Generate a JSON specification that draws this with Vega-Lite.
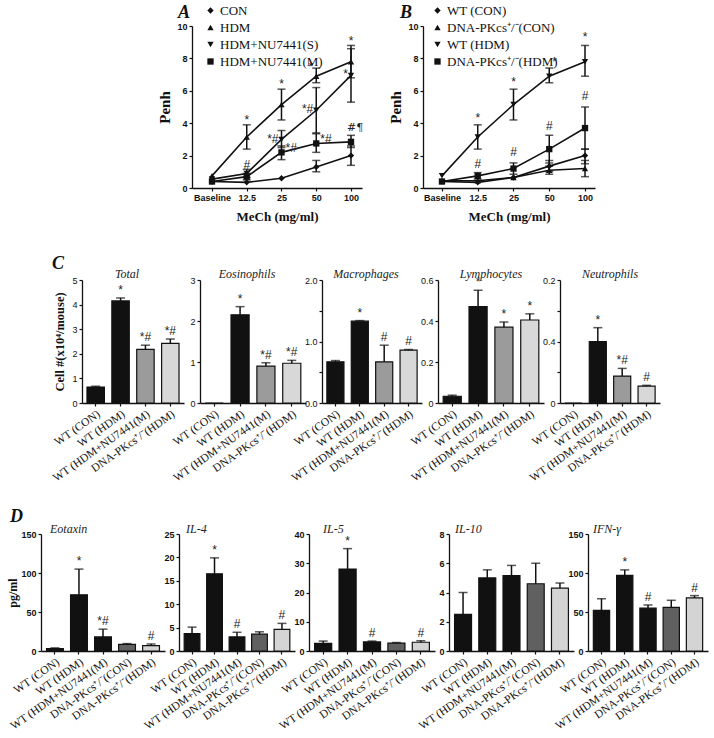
{
"$schema": "https://vega.github.io/schema/vega-lite/v6.json",
"padding": {"left": 0, "top": 4, "right": 5, "bottom": 5},
"background": "white",
"spacing": 32,
"resolve": {"scale": {"color": "independent", "shape": "independent"}},
"config": {
  "view": {"stroke": null},
  "font": "Liberation Serif",
  "axis": {"grid": false, "domainColor": "#111", "domainWidth": 1.3, "tickColor": "#111", "tickWidth": 1.2, "tickSize": 3, "labelColor": "#111", "labelFont": "Liberation Sans", "labelFontSize": 9, "labelPadding": 2, "titleColor": "#111", "titleFont": "Liberation Serif", "titleFontWeight": "bold"},
  "axisX": {"labelFont": "Liberation Serif", "labelFontSize": 11.5, "labelAngle": -35, "labelColor": "#111"},
  "title": {"font": "Liberation Serif", "fontStyle": "italic", "fontWeight": "normal", "fontSize": 12, "color": "#222"},
  "legend": {"padding": 0}
},
"datasets": {
  "penhA": [
    {"grp": "CON", "dose": "Baseline", "penh": 0.4}, {"grp": "CON", "dose": "12.5", "penh": 0.35}, {"grp": "CON", "dose": "25", "penh": 0.6}, {"grp": "CON", "dose": "50", "penh": 1.3}, {"grp": "CON", "dose": "100", "penh": 2.0},
    {"grp": "HDM", "dose": "Baseline", "penh": 0.75}, {"grp": "HDM", "dose": "12.5", "penh": 3.15}, {"grp": "HDM", "dose": "25", "penh": 5.15}, {"grp": "HDM", "dose": "50", "penh": 6.9}, {"grp": "HDM", "dose": "100", "penh": 7.8},
    {"grp": "HDM+NU7441(S)", "dose": "Baseline", "penh": 0.55}, {"grp": "HDM+NU7441(S)", "dose": "12.5", "penh": 0.9}, {"grp": "HDM+NU7441(S)", "dose": "25", "penh": 3.0}, {"grp": "HDM+NU7441(S)", "dose": "50", "penh": 4.8}, {"grp": "HDM+NU7441(S)", "dose": "100", "penh": 6.95},
    {"grp": "HDM+NU7441(M)", "dose": "Baseline", "penh": 0.4}, {"grp": "HDM+NU7441(M)", "dose": "12.5", "penh": 0.7}, {"grp": "HDM+NU7441(M)", "dose": "25", "penh": 2.2}, {"grp": "HDM+NU7441(M)", "dose": "50", "penh": 2.75}, {"grp": "HDM+NU7441(M)", "dose": "100", "penh": 2.85}
  ],
  "errA": [
    {"dose": "50", "lo": 1.0, "hi": 1.7}, {"dose": "100", "lo": 1.4, "hi": 2.6},
    {"dose": "12.5", "lo": 2.4, "hi": 3.9}, {"dose": "25", "lo": 4.2, "hi": 6.1}, {"dose": "50", "lo": 6.5, "hi": 7.4}, {"dose": "100", "lo": 6.8, "hi": 8.8},
    {"dose": "12.5", "lo": 0.65, "hi": 1.15}, {"dose": "25", "lo": 2.5, "hi": 3.55}, {"dose": "50", "lo": 3.4, "hi": 6.2}, {"dose": "100", "lo": 5.3, "hi": 8.6},
    {"dose": "12.5", "lo": 0.5, "hi": 0.9}, {"dose": "25", "lo": 1.75, "hi": 2.6}, {"dose": "50", "lo": 2.2, "hi": 3.35}, {"dose": "100", "lo": 2.5, "hi": 3.25}
  ],
  "annA": [
    {"dose": "12.5", "y": 4.2, "label": "*", "side": "c"}, {"dose": "25", "y": 6.4, "label": "*", "side": "c"}, {"dose": "50", "y": 7.45, "label": "*", "side": "l"}, {"dose": "100", "y": 9.1, "label": "*", "side": "c"},
    {"dose": "100", "y": 7.05, "label": "*", "side": "l"}, {"dose": "25", "y": 3.05, "label": "*#", "side": "l"}, {"dose": "25", "y": 2.5, "label": "*#", "side": "r"},
    {"dose": "50", "y": 4.85, "label": "*#", "side": "l"}, {"dose": "50", "y": 3.0, "label": "*#", "side": "r"}, {"dose": "100", "y": 3.7, "label": "#¶", "side": "p"}, {"dose": "12.5", "y": 1.4, "label": "#", "side": "c"}
  ],
  "penhB": [
    {"grp": "WT (CON)", "dose": "Baseline", "penh": 0.4}, {"grp": "WT (CON)", "dose": "12.5", "penh": 0.35}, {"grp": "WT (CON)", "dose": "25", "penh": 0.65}, {"grp": "WT (CON)", "dose": "50", "penh": 1.35}, {"grp": "WT (CON)", "dose": "100", "penh": 2.0},
    {"grp": "DNA-PKcs⁺/⁻(CON)", "dose": "Baseline", "penh": 0.45}, {"grp": "DNA-PKcs⁺/⁻(CON)", "dose": "12.5", "penh": 0.45}, {"grp": "DNA-PKcs⁺/⁻(CON)", "dose": "25", "penh": 0.65}, {"grp": "DNA-PKcs⁺/⁻(CON)", "dose": "50", "penh": 1.1}, {"grp": "DNA-PKcs⁺/⁻(CON)", "dose": "100", "penh": 1.2},
    {"grp": "WT (HDM)", "dose": "Baseline", "penh": 0.75}, {"grp": "WT (HDM)", "dose": "12.5", "penh": 3.15}, {"grp": "WT (HDM)", "dose": "25", "penh": 5.15}, {"grp": "WT (HDM)", "dose": "50", "penh": 6.9}, {"grp": "WT (HDM)", "dose": "100", "penh": 7.8},
    {"grp": "DNA-PKcs⁺/⁻(HDM)", "dose": "Baseline", "penh": 0.4}, {"grp": "DNA-PKcs⁺/⁻(HDM)", "dose": "12.5", "penh": 0.75}, {"grp": "DNA-PKcs⁺/⁻(HDM)", "dose": "25", "penh": 1.2}, {"grp": "DNA-PKcs⁺/⁻(HDM)", "dose": "50", "penh": 2.4}, {"grp": "DNA-PKcs⁺/⁻(HDM)", "dose": "100", "penh": 3.7}
  ],
  "errB": [
    {"dose": "50", "lo": 1.0, "hi": 1.7}, {"dose": "100", "lo": 1.5, "hi": 2.4},
    {"dose": "50", "lo": 0.85, "hi": 1.35}, {"dose": "100", "lo": 0.7, "hi": 1.7},
    {"dose": "12.5", "lo": 2.4, "hi": 3.9}, {"dose": "25", "lo": 4.2, "hi": 6.1}, {"dose": "50", "lo": 6.5, "hi": 7.4}, {"dose": "100", "lo": 6.9, "hi": 8.8},
    {"dose": "12.5", "lo": 0.55, "hi": 0.95}, {"dose": "25", "lo": 0.85, "hi": 1.55}, {"dose": "50", "lo": 1.55, "hi": 3.25}, {"dose": "100", "lo": 2.4, "hi": 5.0}
  ],
  "annB": [
    {"dose": "12.5", "y": 4.35, "label": "*", "side": "c"}, {"dose": "25", "y": 6.55, "label": "*", "side": "c"}, {"dose": "50", "y": 7.75, "label": "*", "side": "r"}, {"dose": "100", "y": 9.3, "label": "*", "side": "c"},
    {"dose": "12.5", "y": 1.5, "label": "#", "side": "c"}, {"dose": "25", "y": 2.2, "label": "#", "side": "c"}, {"dose": "50", "y": 3.8, "label": "#", "side": "c"}, {"dose": "100", "y": 5.7, "label": "#", "side": "c"}
  ],
  "cells": [
    {"panel": "Total", "g": "WT (CON)", "val": 0.65, "hi": 0.68, "sig": ""},
    {"panel": "Total", "g": "WT (HDM)", "val": 4.15, "hi": 4.27, "sig": "*"},
    {"panel": "Total", "g": "WT (HDM+NU7441(M)", "val": 2.18, "hi": 2.35, "sig": "*#"},
    {"panel": "Total", "g": "DNA-PKcs⁺/⁻(HDM)", "val": 2.42, "hi": 2.6, "sig": "*#"},
    {"panel": "Eosinophils", "g": "WT (CON)", "val": 0, "hi": null, "sig": ""},
    {"panel": "Eosinophils", "g": "WT (HDM)", "val": 2.15, "hi": 2.35, "sig": "*"},
    {"panel": "Eosinophils", "g": "WT (HDM+NU7441(M)", "val": 0.9, "hi": 0.98, "sig": "*#"},
    {"panel": "Eosinophils", "g": "DNA-PKcs⁺/⁻(HDM)", "val": 0.97, "hi": 1.04, "sig": "*#"},
    {"panel": "Macrophages", "g": "WT (CON)", "val": 0.67, "hi": 0.69, "sig": ""},
    {"panel": "Macrophages", "g": "WT (HDM)", "val": 1.33, "hi": 1.34, "sig": "*"},
    {"panel": "Macrophages", "g": "WT (HDM+NU7441(M)", "val": 0.67, "hi": 0.94, "sig": "#"},
    {"panel": "Macrophages", "g": "DNA-PKcs⁺/⁻(HDM)", "val": 0.86, "hi": 0.87, "sig": "#"},
    {"panel": "Lymphocytes", "g": "WT (CON)", "val": 0.033, "hi": 0.038, "sig": ""},
    {"panel": "Lymphocytes", "g": "WT (HDM)", "val": 0.47, "hi": 0.55, "sig": "*"},
    {"panel": "Lymphocytes", "g": "WT (HDM+NU7441(M)", "val": 0.37, "hi": 0.395, "sig": "*"},
    {"panel": "Lymphocytes", "g": "DNA-PKcs⁺/⁻(HDM)", "val": 0.405, "hi": 0.435, "sig": "*"},
    {"panel": "Neutrophils", "g": "WT (CON)", "val": 0, "hi": null, "sig": ""},
    {"panel": "Neutrophils", "g": "WT (HDM)", "val": 0.4, "hi": 0.49, "sig": "*"},
    {"panel": "Neutrophils", "g": "WT (HDM+NU7441(M)", "val": 0.175, "hi": 0.225, "sig": "*#"},
    {"panel": "Neutrophils", "g": "DNA-PKcs⁺/⁻(HDM)", "val": 0.11, "hi": 0.115, "sig": "#"}
  ],
  "cyto": [
    {"panel": "Eotaxin", "g": "WT (CON)", "val": 3, "hi": 4, "sig": ""},
    {"panel": "Eotaxin", "g": "WT (HDM)", "val": 72, "hi": 105, "sig": "*"},
    {"panel": "Eotaxin", "g": "WT (HDM+NU7441(M)", "val": 18, "hi": 28, "sig": "*#"},
    {"panel": "Eotaxin", "g": "DNA-PKcs⁺/⁻(CON)", "val": 8.5, "hi": 9.5, "sig": ""},
    {"panel": "Eotaxin", "g": "DNA-PKcs⁺/⁻(HDM)", "val": 7, "hi": 9, "sig": "#"},
    {"panel": "IL-4", "g": "WT (CON)", "val": 3.7, "hi": 5.1, "sig": ""},
    {"panel": "IL-4", "g": "WT (HDM)", "val": 16.5, "hi": 19.9, "sig": "*"},
    {"panel": "IL-4", "g": "WT (HDM+NU7441(M)", "val": 3.0, "hi": 4.0, "sig": "#"},
    {"panel": "IL-4", "g": "DNA-PKcs⁺/⁻(CON)", "val": 3.6, "hi": 4.1, "sig": ""},
    {"panel": "IL-4", "g": "DNA-PKcs⁺/⁻(HDM)", "val": 4.6, "hi": 5.9, "sig": "#"},
    {"panel": "IL-5", "g": "WT (CON)", "val": 2.6, "hi": 3.4, "sig": ""},
    {"panel": "IL-5", "g": "WT (HDM)", "val": 28, "hi": 35, "sig": "*"},
    {"panel": "IL-5", "g": "WT (HDM+NU7441(M)", "val": 3.1, "hi": 3.4, "sig": "#"},
    {"panel": "IL-5", "g": "DNA-PKcs⁺/⁻(CON)", "val": 2.7, "hi": 2.9, "sig": ""},
    {"panel": "IL-5", "g": "DNA-PKcs⁺/⁻(HDM)", "val": 3.0, "hi": 3.5, "sig": "#"},
    {"panel": "IL-10", "g": "WT (CON)", "val": 2.5, "hi": 4.0, "sig": ""},
    {"panel": "IL-10", "g": "WT (HDM)", "val": 5.0, "hi": 5.55, "sig": ""},
    {"panel": "IL-10", "g": "WT (HDM+NU7441(M)", "val": 5.15, "hi": 5.85, "sig": ""},
    {"panel": "IL-10", "g": "DNA-PKcs⁺/⁻(CON)", "val": 4.6, "hi": 6.0, "sig": ""},
    {"panel": "IL-10", "g": "DNA-PKcs⁺/⁻(HDM)", "val": 4.3, "hi": 4.65, "sig": ""},
    {"panel": "IFN-γ", "g": "WT (CON)", "val": 52, "hi": 67, "sig": ""},
    {"panel": "IFN-γ", "g": "WT (HDM)", "val": 97, "hi": 104, "sig": "*"},
    {"panel": "IFN-γ", "g": "WT (HDM+NU7441(M)", "val": 55, "hi": 59, "sig": "#"},
    {"panel": "IFN-γ", "g": "DNA-PKcs⁺/⁻(CON)", "val": 56, "hi": 65, "sig": ""},
    {"panel": "IFN-γ", "g": "DNA-PKcs⁺/⁻(HDM)", "val": 68, "hi": 71, "sig": "#"}
  ]
},
"vconcat": [
  {
    "bounds": "flush", "spacing": 61,
    "resolve": {"scale": {"color": "independent", "shape": "independent"}},
    "hconcat": [
      {"width": 131, "height": 162, "data": {"values": []}, "mark": "point"},
      {
        "width": 170, "height": 162,
        "data": {"name": "penhA"},
        "encoding": {"x": {"field": "dose", "type": "ordinal", "scale": {"type": "point", "domain": ["Baseline", "12.5", "25", "50", "100"], "padding": 0.446, "align": 0.645}, "axis": {"title": "MeCh (mg/ml)", "labelAngle": 0, "labelFont": "Liberation Sans", "labelFontWeight": "bold", "labelFontSize": 9, "labelColor": "#111", "titleFontSize": 13, "titlePadding": 8}}},
        "layer": [
          {"mark": {"type": "line", "color": "#111", "strokeWidth": 1.6}, "encoding": {"y": {"field": "penh", "type": "quantitative", "scale": {"domain": [0, 10]}, "axis": {"title": "Penh", "values": [0, 2, 4, 6, 8, 10], "titleFontSize": 15, "titlePadding": 4, "labelFontWeight": "bold"}}, "detail": {"field": "grp"}}},
          {"data": {"name": "errA"}, "mark": {"type": "rule", "color": "#111", "strokeWidth": 1.5}, "encoding": {"y": {"field": "lo", "type": "quantitative", "scale": {"domain": [0, 10]}, "axis": {"title": "Penh", "values": [0, 2, 4, 6, 8, 10], "titleFontSize": 15, "titlePadding": 4, "labelFontWeight": "bold"}}, "y2": {"field": "hi"}}},
          {"data": {"name": "errA"}, "mark": {"type": "tick", "color": "#111", "thickness": 1.5, "size": 8}, "encoding": {"y": {"field": "hi", "type": "quantitative", "scale": {"domain": [0, 10]}, "axis": {"title": "Penh", "values": [0, 2, 4, 6, 8, 10], "titleFontSize": 15, "titlePadding": 4, "labelFontWeight": "bold"}}}},
          {"data": {"name": "errA"}, "mark": {"type": "tick", "color": "#111", "thickness": 1.5, "size": 8}, "encoding": {"y": {"field": "lo", "type": "quantitative", "scale": {"domain": [0, 10]}, "axis": {"title": "Penh", "values": [0, 2, 4, 6, 8, 10], "titleFontSize": 15, "titlePadding": 4, "labelFontWeight": "bold"}}}},
          {"mark": {"type": "point", "filled": true, "color": "#111", "size": 40, "opacity": 1}, "encoding": {"y": {"field": "penh", "type": "quantitative", "scale": {"domain": [0, 10]}, "axis": {"title": "Penh", "values": [0, 2, 4, 6, 8, 10], "titleFontSize": 15, "titlePadding": 4, "labelFontWeight": "bold"}}, "shape": {"field": "grp", "type": "nominal", "scale": {"domain": ["CON", "HDM", "HDM+NU7441(S)", "HDM+NU7441(M)"], "range": ["diamond", "triangle-up", "triangle-down", "square"]}, "legend": {"title": "A", "titleOrient": "left", "titleFont": "Liberation Serif", "titleFontSize": 18, "titleFontStyle": "italic", "titleFontWeight": "bold", "titleColor": "#111", "titlePadding": 13, "titleAnchor": "start", "titleBaseline": "top", "orient": "none", "legendX": -14, "legendY": -22, "labelFont": "Liberation Serif", "labelFontSize": 13, "labelColor": "#111", "labelOffset": 3, "symbolSize": 40, "symbolFillColor": "#111", "symbolStrokeColor": "#111", "rowPadding": 3}}}},
          {"data": {"name": "annA"}, "transform": [{"filter": "datum.side === 'c'"}], "mark": {"type": "text", "font": "Liberation Sans", "fontSize": 12, "color": "#222", "baseline": "middle", "align": "center"}, "encoding": {"y": {"field": "y", "type": "quantitative", "scale": {"domain": [0, 10]}, "axis": {"title": "Penh", "values": [0, 2, 4, 6, 8, 10], "titleFontSize": 15, "titlePadding": 4, "labelFontWeight": "bold"}}, "text": {"field": "label"}}},
          {"data": {"name": "annA"}, "transform": [{"filter": "datum.side === 'p'"}], "mark": {"type": "text", "font": "DejaVu Serif", "fontSize": 11, "color": "#222", "baseline": "middle", "align": "left", "dx": -4}, "encoding": {"y": {"field": "y", "type": "quantitative", "scale": {"domain": [0, 10]}, "axis": {"title": "Penh", "values": [0, 2, 4, 6, 8, 10], "titleFontSize": 15, "titlePadding": 4, "labelFontWeight": "bold"}}, "text": {"field": "label"}}},
          {"data": {"name": "annA"}, "transform": [{"filter": "datum.side === 'l'"}], "mark": {"type": "text", "font": "Liberation Sans", "fontSize": 12, "color": "#222", "baseline": "middle", "align": "right", "dx": -3}, "encoding": {"y": {"field": "y", "type": "quantitative", "scale": {"domain": [0, 10]}, "axis": {"title": "Penh", "values": [0, 2, 4, 6, 8, 10], "titleFontSize": 15, "titlePadding": 4, "labelFontWeight": "bold"}}, "text": {"field": "label"}}},
          {"data": {"name": "annA"}, "transform": [{"filter": "datum.side === 'r'"}], "mark": {"type": "text", "font": "Liberation Sans", "fontSize": 12, "color": "#222", "baseline": "middle", "align": "left", "dx": 4}, "encoding": {"y": {"field": "y", "type": "quantitative", "scale": {"domain": [0, 10]}, "axis": {"title": "Penh", "values": [0, 2, 4, 6, 8, 10], "titleFontSize": 15, "titlePadding": 4, "labelFontWeight": "bold"}}, "text": {"field": "label"}}}
        ]
      },
      {
        "width": 172, "height": 162,
        "data": {"name": "penhB"},
        "encoding": {"x": {"field": "dose", "type": "ordinal", "scale": {"type": "point", "domain": ["Baseline", "12.5", "25", "50", "100"], "padding": 0.405, "align": 0.655}, "axis": {"title": "MeCh (mg/ml)", "labelAngle": 0, "labelFont": "Liberation Sans", "labelFontWeight": "bold", "labelFontSize": 9, "labelColor": "#111", "titleFontSize": 13, "titlePadding": 8}}},
        "layer": [
          {"mark": {"type": "line", "color": "#111", "strokeWidth": 1.6}, "encoding": {"y": {"field": "penh", "type": "quantitative", "scale": {"domain": [0, 10]}, "axis": {"title": "Penh", "values": [0, 2, 4, 6, 8, 10], "titleFontSize": 15, "titlePadding": 4, "labelFontWeight": "bold"}}, "detail": {"field": "grp"}}},
          {"data": {"name": "errB"}, "mark": {"type": "rule", "color": "#111", "strokeWidth": 1.5}, "encoding": {"y": {"field": "lo", "type": "quantitative", "scale": {"domain": [0, 10]}, "axis": {"title": "Penh", "values": [0, 2, 4, 6, 8, 10], "titleFontSize": 15, "titlePadding": 4, "labelFontWeight": "bold"}}, "y2": {"field": "hi"}}},
          {"data": {"name": "errB"}, "mark": {"type": "tick", "color": "#111", "thickness": 1.5, "size": 8}, "encoding": {"y": {"field": "hi", "type": "quantitative", "scale": {"domain": [0, 10]}, "axis": {"title": "Penh", "values": [0, 2, 4, 6, 8, 10], "titleFontSize": 15, "titlePadding": 4, "labelFontWeight": "bold"}}}},
          {"data": {"name": "errB"}, "mark": {"type": "tick", "color": "#111", "thickness": 1.5, "size": 8}, "encoding": {"y": {"field": "lo", "type": "quantitative", "scale": {"domain": [0, 10]}, "axis": {"title": "Penh", "values": [0, 2, 4, 6, 8, 10], "titleFontSize": 15, "titlePadding": 4, "labelFontWeight": "bold"}}}},
          {"mark": {"type": "point", "filled": true, "color": "#111", "size": 40, "opacity": 1}, "encoding": {"y": {"field": "penh", "type": "quantitative", "scale": {"domain": [0, 10]}, "axis": {"title": "Penh", "values": [0, 2, 4, 6, 8, 10], "titleFontSize": 15, "titlePadding": 4, "labelFontWeight": "bold"}}, "shape": {"field": "grp", "type": "nominal", "scale": {"domain": ["WT (CON)", "DNA-PKcs⁺/⁻(CON)", "WT (HDM)", "DNA-PKcs⁺/⁻(HDM)"], "range": ["diamond", "triangle-up", "triangle-down", "square"]}, "legend": {"title": "B", "titleOrient": "left", "titleFont": "Liberation Serif", "titleFontSize": 18, "titleFontStyle": "italic", "titleFontWeight": "bold", "titleColor": "#111", "titlePadding": 18, "titleAnchor": "start", "titleBaseline": "top", "orient": "none", "legendX": -23, "legendY": -22, "labelFont": "Liberation Serif", "labelFontSize": 13, "labelColor": "#111", "labelOffset": 3, "symbolSize": 40, "symbolFillColor": "#111", "symbolStrokeColor": "#111", "rowPadding": 3}}}},
          {"data": {"name": "annB"}, "transform": [{"filter": "datum.side === 'c'"}], "mark": {"type": "text", "font": "Liberation Sans", "fontSize": 12, "color": "#222", "baseline": "middle", "align": "center"}, "encoding": {"y": {"field": "y", "type": "quantitative", "scale": {"domain": [0, 10]}, "axis": {"title": "Penh", "values": [0, 2, 4, 6, 8, 10], "titleFontSize": 15, "titlePadding": 4, "labelFontWeight": "bold"}}, "text": {"field": "label"}}},
          {"data": {"name": "annB"}, "transform": [{"filter": "datum.side === 'r'"}], "mark": {"type": "text", "font": "Liberation Sans", "fontSize": 12, "color": "#222", "baseline": "middle", "align": "left", "dx": 3}, "encoding": {"y": {"field": "y", "type": "quantitative", "scale": {"domain": [0, 10]}, "axis": {"title": "Penh", "values": [0, 2, 4, 6, 8, 10], "titleFontSize": 15, "titlePadding": 4, "labelFontWeight": "bold"}}, "text": {"field": "label"}}}
        ]
      }
    ]
  },
  {
    "spacing": 24,
    "resolve": {"scale": {"color": "independent", "shape": "independent"}},
    "vconcat": [
      {
        "bounds": "flush", "spacing": 16,
        "resolve": {"scale": {"color": "independent"}},
        "hconcat": [
          {"width": 66, "height": 123, "data": {"values": []}, "mark": "point", "title": {"text": "C", "anchor": "start", "dx": 52, "offset": 7, "font": "Liberation Serif", "fontSize": 18, "fontStyle": "italic", "fontWeight": "bold", "color": "#111"}},
          {
            "width": 102, "height": 123, "title": {"text": "Total", "offset": -5, "dx": -6},
            "data": {"name": "cells"}, "transform": [{"filter": "datum.panel === 'Total'"}],
            "encoding": {"x": {"field": "g", "type": "nominal", "sort": null, "scale": {"domain": ["WT (CON)", "WT (HDM)", "WT (HDM+NU7441(M)", "DNA-PKcs⁺/⁻(HDM)"], "paddingInner": 0.3, "paddingOuter": 0.2}, "axis": {"title": null}}},
            "layer": [
              {"mark": {"type": "bar", "stroke": "#111", "strokeWidth": 1.2}, "encoding": {"y": {"field": "val", "type": "quantitative", "scale": {"domain": [0, 5]}, "axis": {"values": [0, 1, 2, 3, 4, 5], "title": "Cell #(x10⁴/mouse)", "titleFontSize": 12.5, "titlePadding": 5}}, "color": {"field": "g", "type": "nominal", "scale": {"domain": ["WT (CON)", "WT (HDM)", "WT (HDM+NU7441(M)", "DNA-PKcs⁺/⁻(HDM)"], "range": ["#111", "#111", "#9b9b9b", "#d8d8d8"]}, "legend": null}}},
              {"transform": [{"filter": "datum.hi != null"}], "mark": {"type": "rule", "color": "#111", "strokeWidth": 1.5}, "encoding": {"y": {"field": "val", "type": "quantitative", "scale": {"domain": [0, 5]}, "axis": {"values": [0, 1, 2, 3, 4, 5], "title": "Cell #(x10⁴/mouse)", "titleFontSize": 12.5, "titlePadding": 5}}, "y2": {"field": "hi"}}},
              {"transform": [{"filter": "datum.hi != null"}], "mark": {"type": "tick", "color": "#111", "thickness": 1.5, "size": 9}, "encoding": {"y": {"field": "hi", "type": "quantitative", "scale": {"domain": [0, 5]}, "axis": {"values": [0, 1, 2, 3, 4, 5], "title": "Cell #(x10⁴/mouse)", "titleFontSize": 12.5, "titlePadding": 5}}}},
              {"transform": [{"filter": "datum.sig !== ''"}], "mark": {"type": "text", "baseline": "bottom", "dy": -1, "font": "Liberation Sans", "fontSize": 12, "color": "#222"}, "encoding": {"y": {"field": "hi", "type": "quantitative", "scale": {"domain": [0, 5]}, "axis": {"values": [0, 1, 2, 3, 4, 5], "title": "Cell #(x10⁴/mouse)", "titleFontSize": 12.5, "titlePadding": 5}}, "text": {"field": "sig"}}}
            ]
          },
          {
            "width": 106, "height": 123, "title": {"text": "Eosinophils", "offset": -5, "dx": -6},
            "data": {"name": "cells"}, "transform": [{"filter": "datum.panel === 'Eosinophils'"}],
            "encoding": {"x": {"field": "g", "type": "nominal", "sort": null, "scale": {"domain": ["WT (CON)", "WT (HDM)", "WT (HDM+NU7441(M)", "DNA-PKcs⁺/⁻(HDM)"], "paddingInner": 0.3, "paddingOuter": 0.2}, "axis": {"title": null}}},
            "layer": [
              {"mark": {"type": "bar", "stroke": "#111", "strokeWidth": 1.2}, "encoding": {"y": {"field": "val", "type": "quantitative", "scale": {"domain": [0, 3]}, "axis": {"values": [0, 1, 2, 3], "title": null}}, "color": {"field": "g", "type": "nominal", "scale": {"domain": ["WT (CON)", "WT (HDM)", "WT (HDM+NU7441(M)", "DNA-PKcs⁺/⁻(HDM)"], "range": ["#111", "#111", "#9b9b9b", "#d8d8d8"]}, "legend": null}}},
              {"transform": [{"filter": "datum.hi != null"}], "mark": {"type": "rule", "color": "#111", "strokeWidth": 1.5}, "encoding": {"y": {"field": "val", "type": "quantitative", "scale": {"domain": [0, 3]}, "axis": {"values": [0, 1, 2, 3], "title": null}}, "y2": {"field": "hi"}}},
              {"transform": [{"filter": "datum.hi != null"}], "mark": {"type": "tick", "color": "#111", "thickness": 1.5, "size": 9}, "encoding": {"y": {"field": "hi", "type": "quantitative", "scale": {"domain": [0, 3]}, "axis": {"values": [0, 1, 2, 3], "title": null}}}},
              {"transform": [{"filter": "datum.sig !== ''"}], "mark": {"type": "text", "baseline": "bottom", "dy": -1, "font": "Liberation Sans", "fontSize": 12, "color": "#222"}, "encoding": {"y": {"field": "hi", "type": "quantitative", "scale": {"domain": [0, 3]}, "axis": {"values": [0, 1, 2, 3], "title": null}}, "text": {"field": "sig"}}}
            ]
          },
          {
            "width": 100, "height": 123, "title": {"text": "Macrophages", "offset": -5, "dx": -6},
            "data": {"name": "cells"}, "transform": [{"filter": "datum.panel === 'Macrophages'"}],
            "encoding": {"x": {"field": "g", "type": "nominal", "sort": null, "scale": {"domain": ["WT (CON)", "WT (HDM)", "WT (HDM+NU7441(M)", "DNA-PKcs⁺/⁻(HDM)"], "paddingInner": 0.3, "paddingOuter": 0.2}, "axis": {"title": null}}},
            "layer": [
              {"mark": {"type": "bar", "stroke": "#111", "strokeWidth": 1.2}, "encoding": {"y": {"field": "val", "type": "quantitative", "scale": {"domain": [0, 2]}, "axis": {"values": [0, 0.5, 1, 1.5, 2], "labelExpr": "datum.value % 1 == 0 ? datum.label : ''", "title": null}}, "color": {"field": "g", "type": "nominal", "scale": {"domain": ["WT (CON)", "WT (HDM)", "WT (HDM+NU7441(M)", "DNA-PKcs⁺/⁻(HDM)"], "range": ["#111", "#111", "#9b9b9b", "#d8d8d8"]}, "legend": null}}},
              {"transform": [{"filter": "datum.hi != null"}], "mark": {"type": "rule", "color": "#111", "strokeWidth": 1.5}, "encoding": {"y": {"field": "val", "type": "quantitative", "scale": {"domain": [0, 2]}, "axis": {"values": [0, 0.5, 1, 1.5, 2], "labelExpr": "datum.value % 1 == 0 ? datum.label : ''", "title": null}}, "y2": {"field": "hi"}}},
              {"transform": [{"filter": "datum.hi != null"}], "mark": {"type": "tick", "color": "#111", "thickness": 1.5, "size": 9}, "encoding": {"y": {"field": "hi", "type": "quantitative", "scale": {"domain": [0, 2]}, "axis": {"values": [0, 0.5, 1, 1.5, 2], "labelExpr": "datum.value % 1 == 0 ? datum.label : ''", "title": null}}}},
              {"transform": [{"filter": "datum.sig !== ''"}], "mark": {"type": "text", "baseline": "bottom", "dy": -1, "font": "Liberation Sans", "fontSize": 12, "color": "#222"}, "encoding": {"y": {"field": "hi", "type": "quantitative", "scale": {"domain": [0, 2]}, "axis": {"values": [0, 0.5, 1, 1.5, 2], "labelExpr": "datum.value % 1 == 0 ? datum.label : ''", "title": null}}, "text": {"field": "sig"}}}
            ]
          },
          {
            "width": 106, "height": 123, "title": {"text": "Lymphocytes", "offset": -5},
            "data": {"name": "cells"}, "transform": [{"filter": "datum.panel === 'Lymphocytes'"}],
            "encoding": {"x": {"field": "g", "type": "nominal", "sort": null, "scale": {"domain": ["WT (CON)", "WT (HDM)", "WT (HDM+NU7441(M)", "DNA-PKcs⁺/⁻(HDM)"], "paddingInner": 0.3, "paddingOuter": 0.2}, "axis": {"title": null}}},
            "layer": [
              {"mark": {"type": "bar", "stroke": "#111", "strokeWidth": 1.2}, "encoding": {"y": {"field": "val", "type": "quantitative", "scale": {"domain": [0, 0.6]}, "axis": {"values": [0, 0.2, 0.4, 0.6], "format": ".1~f", "title": null}}, "color": {"field": "g", "type": "nominal", "scale": {"domain": ["WT (CON)", "WT (HDM)", "WT (HDM+NU7441(M)", "DNA-PKcs⁺/⁻(HDM)"], "range": ["#111", "#111", "#9b9b9b", "#d8d8d8"]}, "legend": null}}},
              {"transform": [{"filter": "datum.hi != null"}], "mark": {"type": "rule", "color": "#111", "strokeWidth": 1.5}, "encoding": {"y": {"field": "val", "type": "quantitative", "scale": {"domain": [0, 0.6]}, "axis": {"values": [0, 0.2, 0.4, 0.6], "format": ".1~f", "title": null}}, "y2": {"field": "hi"}}},
              {"transform": [{"filter": "datum.hi != null"}], "mark": {"type": "tick", "color": "#111", "thickness": 1.5, "size": 9}, "encoding": {"y": {"field": "hi", "type": "quantitative", "scale": {"domain": [0, 0.6]}, "axis": {"values": [0, 0.2, 0.4, 0.6], "format": ".1~f", "title": null}}}},
              {"transform": [{"filter": "datum.sig !== ''"}], "mark": {"type": "text", "baseline": "bottom", "dy": -1, "font": "Liberation Sans", "fontSize": 12, "color": "#222"}, "encoding": {"y": {"field": "hi", "type": "quantitative", "scale": {"domain": [0, 0.6]}, "axis": {"values": [0, 0.2, 0.4, 0.6], "format": ".1~f", "title": null}}, "text": {"field": "sig"}}}
            ]
          },
          {
            "width": 100, "height": 123, "title": {"text": "Neutrophils", "offset": -5},
            "data": {"name": "cells"}, "transform": [{"filter": "datum.panel === 'Neutrophils'"}],
            "encoding": {"x": {"field": "g", "type": "nominal", "sort": null, "scale": {"domain": ["WT (CON)", "WT (HDM)", "WT (HDM+NU7441(M)", "DNA-PKcs⁺/⁻(HDM)"], "paddingInner": 0.3, "paddingOuter": 0.2}, "axis": {"title": null}}},
            "layer": [
              {"mark": {"type": "bar", "stroke": "#111", "strokeWidth": 1.2}, "encoding": {"y": {"field": "val", "type": "quantitative", "scale": {"domain": [0, 0.8]}, "axis": {"values": [0, 0.2, 0.4, 0.6, 0.8], "labelExpr": "datum.value == 0 ? '0' : datum.value == 0.4 ? '0.4' : datum.value == 0.8 ? '0.2' : ''", "title": null}}, "color": {"field": "g", "type": "nominal", "scale": {"domain": ["WT (CON)", "WT (HDM)", "WT (HDM+NU7441(M)", "DNA-PKcs⁺/⁻(HDM)"], "range": ["#111", "#111", "#9b9b9b", "#d8d8d8"]}, "legend": null}}},
              {"transform": [{"filter": "datum.hi != null"}], "mark": {"type": "rule", "color": "#111", "strokeWidth": 1.5}, "encoding": {"y": {"field": "val", "type": "quantitative", "scale": {"domain": [0, 0.8]}, "axis": {"values": [0, 0.2, 0.4, 0.6, 0.8], "labelExpr": "datum.value == 0 ? '0' : datum.value == 0.4 ? '0.4' : datum.value == 0.8 ? '0.2' : ''", "title": null}}, "y2": {"field": "hi"}}},
              {"transform": [{"filter": "datum.hi != null"}], "mark": {"type": "tick", "color": "#111", "thickness": 1.5, "size": 9}, "encoding": {"y": {"field": "hi", "type": "quantitative", "scale": {"domain": [0, 0.8]}, "axis": {"values": [0, 0.2, 0.4, 0.6, 0.8], "labelExpr": "datum.value == 0 ? '0' : datum.value == 0.4 ? '0.4' : datum.value == 0.8 ? '0.2' : ''", "title": null}}}},
              {"transform": [{"filter": "datum.sig !== ''"}], "mark": {"type": "text", "baseline": "bottom", "dy": -1, "font": "Liberation Sans", "fontSize": 12, "color": "#222"}, "encoding": {"y": {"field": "hi", "type": "quantitative", "scale": {"domain": [0, 0.8]}, "axis": {"values": [0, 0.2, 0.4, 0.6, 0.8], "labelExpr": "datum.value == 0 ? '0' : datum.value == 0.4 ? '0.4' : datum.value == 0.8 ? '0.2' : ''", "title": null}}, "text": {"field": "sig"}}}
            ]
          }
        ]
      },
      {
        "bounds": "flush", "spacing": 14,
        "resolve": {"scale": {"color": "independent"}},
        "hconcat": [
          {"width": 27, "height": 117, "data": {"values": []}, "mark": "point", "title": {"text": "D", "anchor": "start", "dx": 10, "offset": 8, "font": "Liberation Serif", "fontSize": 18, "fontStyle": "italic", "fontWeight": "bold", "color": "#111"}},
          {
            "width": 124, "height": 117, "title": {"text": "Eotaxin", "anchor": "start", "frame": "group", "dx": 9, "offset": -6},
            "data": {"name": "cyto"}, "transform": [{"filter": "datum.panel === 'Eotaxin'"}],
            "encoding": {"x": {"field": "g", "type": "nominal", "sort": null, "scale": {"domain": ["WT (CON)", "WT (HDM)", "WT (HDM+NU7441(M)", "DNA-PKcs⁺/⁻(CON)", "DNA-PKcs⁺/⁻(HDM)"], "paddingInner": 0.3, "paddingOuter": 0.23}, "axis": {"title": null}}},
            "layer": [
              {"mark": {"type": "bar", "stroke": "#111", "strokeWidth": 1.2}, "encoding": {"y": {"field": "val", "type": "quantitative", "scale": {"domain": [0, 150]}, "axis": {"values": [0, 50, 100, 150], "title": "pg/ml", "titleFontSize": 12, "titlePadding": 1, "labelFontWeight": "bold"}}, "color": {"field": "g", "type": "nominal", "scale": {"domain": ["WT (CON)", "WT (HDM)", "WT (HDM+NU7441(M)", "DNA-PKcs⁺/⁻(CON)", "DNA-PKcs⁺/⁻(HDM)"], "range": ["#111", "#111", "#111", "#606060", "#d4d4d4"]}, "legend": null}}},
              {"mark": {"type": "rule", "color": "#111", "strokeWidth": 1.5}, "encoding": {"y": {"field": "val", "type": "quantitative", "scale": {"domain": [0, 150]}, "axis": {"values": [0, 50, 100, 150], "title": "pg/ml", "titleFontSize": 12, "titlePadding": 1, "labelFontWeight": "bold"}}, "y2": {"field": "hi"}}},
              {"mark": {"type": "tick", "color": "#111", "thickness": 1.5, "size": 9}, "encoding": {"y": {"field": "hi", "type": "quantitative", "scale": {"domain": [0, 150]}, "axis": {"values": [0, 50, 100, 150], "title": "pg/ml", "titleFontSize": 12, "titlePadding": 1, "labelFontWeight": "bold"}}}},
              {"transform": [{"filter": "datum.sig !== ''"}], "mark": {"type": "text", "baseline": "bottom", "dy": -1, "font": "Liberation Sans", "fontSize": 12, "color": "#222"}, "encoding": {"y": {"field": "hi", "type": "quantitative", "scale": {"domain": [0, 150]}, "axis": {"values": [0, 50, 100, 150], "title": "pg/ml", "titleFontSize": 12, "titlePadding": 1, "labelFontWeight": "bold"}}, "text": {"field": "sig"}}}
            ]
          },
          {
            "width": 116, "height": 117, "title": {"text": "IL-4", "anchor": "start", "frame": "group", "dx": 7, "offset": -6},
            "data": {"name": "cyto"}, "transform": [{"filter": "datum.panel === 'IL-4'"}],
            "encoding": {"x": {"field": "g", "type": "nominal", "sort": null, "scale": {"domain": ["WT (CON)", "WT (HDM)", "WT (HDM+NU7441(M)", "DNA-PKcs⁺/⁻(CON)", "DNA-PKcs⁺/⁻(HDM)"], "paddingInner": 0.3, "paddingOuter": 0.23}, "axis": {"title": null}}},
            "layer": [
              {"mark": {"type": "bar", "stroke": "#111", "strokeWidth": 1.2}, "encoding": {"y": {"field": "val", "type": "quantitative", "scale": {"domain": [0, 25]}, "axis": {"values": [0, 5, 10, 15, 20, 25], "title": null, "labelFontWeight": "bold"}}, "color": {"field": "g", "type": "nominal", "scale": {"domain": ["WT (CON)", "WT (HDM)", "WT (HDM+NU7441(M)", "DNA-PKcs⁺/⁻(CON)", "DNA-PKcs⁺/⁻(HDM)"], "range": ["#111", "#111", "#111", "#606060", "#d4d4d4"]}, "legend": null}}},
              {"mark": {"type": "rule", "color": "#111", "strokeWidth": 1.5}, "encoding": {"y": {"field": "val", "type": "quantitative", "scale": {"domain": [0, 25]}, "axis": {"values": [0, 5, 10, 15, 20, 25], "title": null, "labelFontWeight": "bold"}}, "y2": {"field": "hi"}}},
              {"mark": {"type": "tick", "color": "#111", "thickness": 1.5, "size": 9}, "encoding": {"y": {"field": "hi", "type": "quantitative", "scale": {"domain": [0, 25]}, "axis": {"values": [0, 5, 10, 15, 20, 25], "title": null, "labelFontWeight": "bold"}}}},
              {"transform": [{"filter": "datum.sig !== ''"}], "mark": {"type": "text", "baseline": "bottom", "dy": -1, "font": "Liberation Sans", "fontSize": 12, "color": "#222"}, "encoding": {"y": {"field": "hi", "type": "quantitative", "scale": {"domain": [0, 25]}, "axis": {"values": [0, 5, 10, 15, 20, 25], "title": null, "labelFontWeight": "bold"}}, "text": {"field": "sig"}}}
            ]
          },
          {
            "width": 126, "height": 117, "title": {"text": "IL-5", "anchor": "start", "frame": "group", "dx": 14, "offset": -6},
            "data": {"name": "cyto"}, "transform": [{"filter": "datum.panel === 'IL-5'"}],
            "encoding": {"x": {"field": "g", "type": "nominal", "sort": null, "scale": {"domain": ["WT (CON)", "WT (HDM)", "WT (HDM+NU7441(M)", "DNA-PKcs⁺/⁻(CON)", "DNA-PKcs⁺/⁻(HDM)"], "paddingInner": 0.3, "paddingOuter": 0.23}, "axis": {"title": null}}},
            "layer": [
              {"mark": {"type": "bar", "stroke": "#111", "strokeWidth": 1.2}, "encoding": {"y": {"field": "val", "type": "quantitative", "scale": {"domain": [0, 40]}, "axis": {"values": [0, 10, 20, 30, 40], "title": null, "labelFontWeight": "bold"}}, "color": {"field": "g", "type": "nominal", "scale": {"domain": ["WT (CON)", "WT (HDM)", "WT (HDM+NU7441(M)", "DNA-PKcs⁺/⁻(CON)", "DNA-PKcs⁺/⁻(HDM)"], "range": ["#111", "#111", "#111", "#606060", "#d4d4d4"]}, "legend": null}}},
              {"mark": {"type": "rule", "color": "#111", "strokeWidth": 1.5}, "encoding": {"y": {"field": "val", "type": "quantitative", "scale": {"domain": [0, 40]}, "axis": {"values": [0, 10, 20, 30, 40], "title": null, "labelFontWeight": "bold"}}, "y2": {"field": "hi"}}},
              {"mark": {"type": "tick", "color": "#111", "thickness": 1.5, "size": 9}, "encoding": {"y": {"field": "hi", "type": "quantitative", "scale": {"domain": [0, 40]}, "axis": {"values": [0, 10, 20, 30, 40], "title": null, "labelFontWeight": "bold"}}}},
              {"transform": [{"filter": "datum.sig !== ''"}], "mark": {"type": "text", "baseline": "bottom", "dy": -1, "font": "Liberation Sans", "fontSize": 12, "color": "#222"}, "encoding": {"y": {"field": "hi", "type": "quantitative", "scale": {"domain": [0, 40]}, "axis": {"values": [0, 10, 20, 30, 40], "title": null, "labelFontWeight": "bold"}}, "text": {"field": "sig"}}}
            ]
          },
          {
            "width": 125, "height": 117, "title": {"text": "IL-10", "anchor": "start", "frame": "group", "dx": 6, "offset": -6},
            "data": {"name": "cyto"}, "transform": [{"filter": "datum.panel === 'IL-10'"}],
            "encoding": {"x": {"field": "g", "type": "nominal", "sort": null, "scale": {"domain": ["WT (CON)", "WT (HDM)", "WT (HDM+NU7441(M)", "DNA-PKcs⁺/⁻(CON)", "DNA-PKcs⁺/⁻(HDM)"], "paddingInner": 0.3, "paddingOuter": 0.23}, "axis": {"title": null}}},
            "layer": [
              {"mark": {"type": "bar", "stroke": "#111", "strokeWidth": 1.2}, "encoding": {"y": {"field": "val", "type": "quantitative", "scale": {"domain": [0, 8]}, "axis": {"values": [0, 2, 4, 6, 8], "title": null, "labelFontWeight": "bold"}}, "color": {"field": "g", "type": "nominal", "scale": {"domain": ["WT (CON)", "WT (HDM)", "WT (HDM+NU7441(M)", "DNA-PKcs⁺/⁻(CON)", "DNA-PKcs⁺/⁻(HDM)"], "range": ["#111", "#111", "#111", "#606060", "#d4d4d4"]}, "legend": null}}},
              {"mark": {"type": "rule", "color": "#111", "strokeWidth": 1.5}, "encoding": {"y": {"field": "val", "type": "quantitative", "scale": {"domain": [0, 8]}, "axis": {"values": [0, 2, 4, 6, 8], "title": null, "labelFontWeight": "bold"}}, "y2": {"field": "hi"}}},
              {"mark": {"type": "tick", "color": "#111", "thickness": 1.5, "size": 9}, "encoding": {"y": {"field": "hi", "type": "quantitative", "scale": {"domain": [0, 8]}, "axis": {"values": [0, 2, 4, 6, 8], "title": null, "labelFontWeight": "bold"}}}}
            ]
          },
          {
            "width": 120, "height": 117, "title": {"text": "IFN-γ", "anchor": "start", "frame": "group", "dx": 5, "offset": -6},
            "data": {"name": "cyto"}, "transform": [{"filter": "datum.panel === 'IFN-γ'"}],
            "encoding": {"x": {"field": "g", "type": "nominal", "sort": null, "scale": {"domain": ["WT (CON)", "WT (HDM)", "WT (HDM+NU7441(M)", "DNA-PKcs⁺/⁻(CON)", "DNA-PKcs⁺/⁻(HDM)"], "paddingInner": 0.3, "paddingOuter": 0.23}, "axis": {"title": null}}},
            "layer": [
              {"mark": {"type": "bar", "stroke": "#111", "strokeWidth": 1.2}, "encoding": {"y": {"field": "val", "type": "quantitative", "scale": {"domain": [0, 150]}, "axis": {"values": [0, 50, 100, 150], "title": null, "labelFontWeight": "bold"}}, "color": {"field": "g", "type": "nominal", "scale": {"domain": ["WT (CON)", "WT (HDM)", "WT (HDM+NU7441(M)", "DNA-PKcs⁺/⁻(CON)", "DNA-PKcs⁺/⁻(HDM)"], "range": ["#111", "#111", "#111", "#606060", "#d4d4d4"]}, "legend": null}}},
              {"mark": {"type": "rule", "color": "#111", "strokeWidth": 1.5}, "encoding": {"y": {"field": "val", "type": "quantitative", "scale": {"domain": [0, 150]}, "axis": {"values": [0, 50, 100, 150], "title": null, "labelFontWeight": "bold"}}, "y2": {"field": "hi"}}},
              {"mark": {"type": "tick", "color": "#111", "thickness": 1.5, "size": 9}, "encoding": {"y": {"field": "hi", "type": "quantitative", "scale": {"domain": [0, 150]}, "axis": {"values": [0, 50, 100, 150], "title": null, "labelFontWeight": "bold"}}}},
              {"transform": [{"filter": "datum.sig !== ''"}], "mark": {"type": "text", "baseline": "bottom", "dy": -1, "font": "Liberation Sans", "fontSize": 12, "color": "#222"}, "encoding": {"y": {"field": "hi", "type": "quantitative", "scale": {"domain": [0, 150]}, "axis": {"values": [0, 50, 100, 150], "title": null, "labelFontWeight": "bold"}}, "text": {"field": "sig"}}}
            ]
          }
        ]
      }
    ]
  }
]
}
